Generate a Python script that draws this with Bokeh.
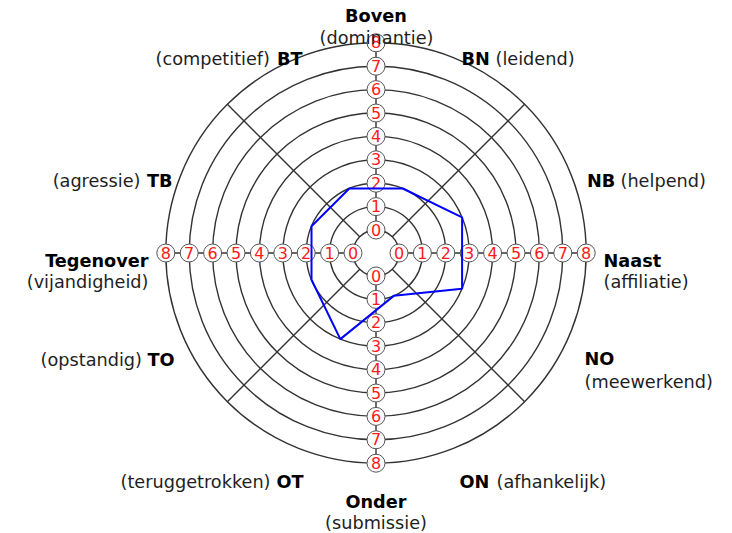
import math
from bokeh.plotting import figure
from bokeh.models import Range1d
from bokeh.embed import file_html
from bokeh.resources import INLINE
from bokeh.core.properties import value

# ---------------- data ----------------
ring_values = [0, 1, 2, 3, 4, 5, 6, 7, 8]
ring_labels = ["0", "1", "2", "3", "4", "5", "6", "7", "8"]

octants = ["BN", "NB", "NO", "ON", "OT", "TO", "TB", "BT"]
octant_angles = [67.5, 22.5, -22.5, -67.5, -112.5, -157.5, 157.5, 112.5]
scores = [2, 3, 3, 1, 3, 2, 2, 2]

axis_names = ["Boven", "Naast", "Onder", "Tegenover"]
axis_angles = [90, 0, 270, 180]
axis_subs = ["(dominantie)", "(affiliatie)", "(submissie)", "(vijandigheid)"]
octant_subs = ["(leidend)", "(helpend)", "(meewerkend)", "(afhankelijk)",
               "(teruggetrokken)", "(opstandig)", "(agressie)", "(competitief)"]

# ---------------- layout ----------------
W, H = 732, 533
CX, CY = 375.5, 252.5          # centre in page pixels
R0, STEP = 23.0, 23.4          # radius of ring 0 and ring spacing (px)
FONT = value("DejaVu Sans")
LBL_SIZE = "17.7px"


def r_of(v):
    return R0 + STEP * v


def pos(X, Y):
    return X - CX, CY - Y


p = figure(width=W, height=H, output_backend="svg", toolbar_location=None,
           x_range=Range1d(0 - CX, W - CX), y_range=Range1d(CY - H, CY - 0),
           x_axis_type=None, y_axis_type=None, min_border=0)
p.grid.visible = False
p.outline_line_color = None
p.background_fill_color = "white"
p.border_fill_color = "white"

# rings
p.circle(x=[0] * len(ring_values), y=[0] * len(ring_values),
         radius=[r_of(v) for v in ring_values],
         fill_color=None, line_color="#333333", line_width=1.4)

# spokes
sx0, sy0, sx1, sy1 = [], [], [], []
for k in range(8):
    a = math.radians(45 * k)
    sx0.append(r_of(ring_values[0]) * math.cos(a))
    sy0.append(r_of(ring_values[0]) * math.sin(a))
    sx1.append(r_of(ring_values[-1]) * math.cos(a))
    sy1.append(r_of(ring_values[-1]) * math.sin(a))
p.segment(x0=sx0, y0=sy0, x1=sx1, y1=sy1, line_color="#333333", line_width=1.4)

# tick label bubbles
bx, by, bt = [], [], []
for a_deg in axis_angles:
    a = math.radians(a_deg)
    for v, lab in zip(ring_values, ring_labels):
        bx.append(r_of(v) * math.cos(a))
        by.append(r_of(v) * math.sin(a))
        bt.append(lab)
p.scatter(x=bx, y=by, marker="circle", size=18, fill_color="white",
          line_color="#555555", line_width=1)
p.text(x=bx, y=[y + 0.5 for y in by], text=bt, text_align="center",
       text_baseline="middle", text_color="#ff1a1a", text_font_size="16px",
       text_font=FONT)

# score polygon
px = [r_of(s) * math.cos(math.radians(a)) for s, a in zip(scores, octant_angles)]
py = [r_of(s) * math.sin(math.radians(a)) for s, a in zip(scores, octant_angles)]
p.patch(x=px, y=py, fill_color=None, line_color="#0000ff", line_width=2)

# outer labels: (text, X, Y, align, bold)
labels = [
    (axis_names[0], 375.5, 15, "center", True),
    (axis_subs[0], 376, 37, "center", False),
    (axis_names[1], 603, 260, "left", True),
    (axis_subs[1], 603, 281, "left", False),
    (axis_names[2], 375.5, 501, "center", True),
    (axis_subs[2], 375.5, 522, "center", False),
    (axis_names[3], 148, 260, "right", True),
    (axis_subs[3], 148, 281, "right", False),
    (octants[0], 461, 58, "left", True),
    (octant_subs[0], 495, 58, "left", False),
    (octants[1], 586.5, 180, "left", True),
    (octant_subs[1], 620, 180, "left", False),
    (octants[2], 584, 358, "left", True),
    (octant_subs[2], 584, 381, "left", False),
    (octants[3], 459, 481, "left", True),
    (octant_subs[3], 496, 481, "left", False),
    (octants[4], 303, 481, "right", True),
    (octant_subs[4], 270, 481, "right", False),
    (octants[5], 174, 359, "right", True),
    (octant_subs[5], 141.5, 359, "right", False),
    (octants[6], 172, 180, "right", True),
    (octant_subs[6], 140, 180, "right", False),
    (octants[7], 302, 58, "right", True),
    (octant_subs[7], 269.5, 58, "right", False),
]
for txt, X, Y, al, bold in labels:
    x, y = pos(X, Y)
    p.text(x=[x], y=[y], text=[txt], text_align=al, text_baseline="middle",
           text_font=FONT, text_font_size=LBL_SIZE,
           text_font_style="bold" if bold else "normal",
           text_color="#000000" if bold else "#1e1e1e")

open("out.html", "w").write(file_html(p, INLINE))
